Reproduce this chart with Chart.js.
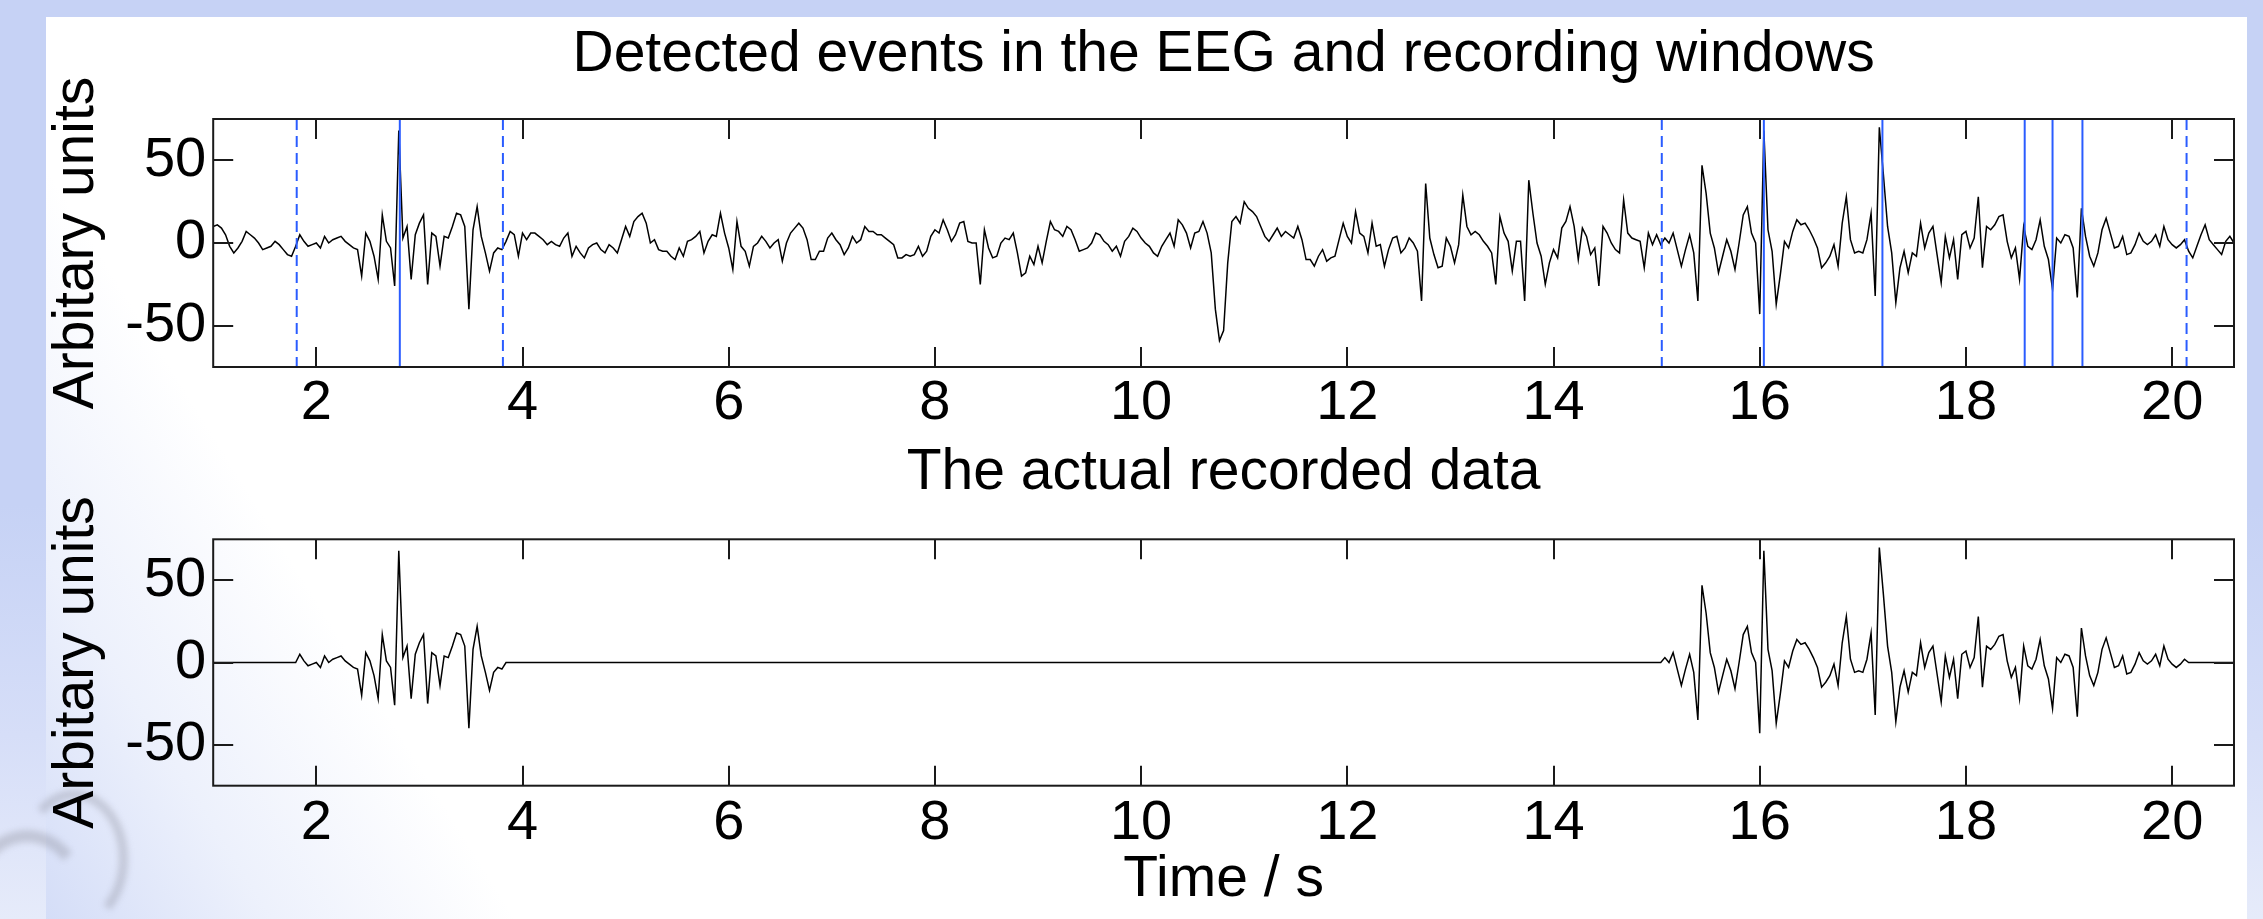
<!DOCTYPE html>
<html>
<head>
<meta charset="utf-8">
<script src="https://cdn.jsdelivr.net/npm/chart.js@4/dist/chart.umd.min.js"></script>
<style>
html,body{margin:0;padding:0;}
body{width:2263px;height:919px;background:linear-gradient(180deg,#c6d2f5 0%,#c6d2f5 55%,#d6def8 80%,#e6ebfa 100%);position:relative;overflow:hidden;}
#panel{position:absolute;left:46px;top:17px;width:2201px;height:902px;
  background:linear-gradient(58deg, rgba(198,210,245,0.75) 0%, rgba(214,223,248,0.45) 8%, rgba(255,255,255,0) 17%), #ffffff;}
.arc{position:absolute;border-radius:50%;border-style:solid;border-color:rgba(120,120,130,0.28);filter:blur(3px);}
#arc1{left:-40px;top:830px;width:110px;height:150px;border-width:12px;border-right-color:transparent;border-bottom-color:transparent;}
#arc2{left:20px;top:790px;width:90px;height:120px;border-width:9px;border-left-color:transparent;border-bottom-color:transparent;}
canvas{position:absolute;left:0;}
#c1{top:0;}
#c2{top:420px;}
</style>
</head>
<body>
<div id="panel"></div>
<div class="arc" id="arc1"></div>
<div class="arc" id="arc2"></div>
<canvas id="c1" width="2263" height="460"></canvas>
<canvas id="c2" width="2263" height="499"></canvas>
<script>
// ---------------- data ----------------
const sampleStart = 1.0;     // s
const samplePeriod = 0.04;   // s
const eeg01 = [10,11,9,5,-2,-6,-3,1,7,5,3,0,-4,-3,-2,1,-1,-4,-7,-8,-2,5,1,-2,-1];
const eeg02 = [0,-3,4,0,2,3,4,1,-1,-3,-4,-20,6,1,-8,-22,17,1,-3,-26,68,3,10,-22,5];
const eeg03 = [12,17,-25,6,4,-14,4,3,10,18,17,10,-40,8,22,4,-6,-17,-6,-3,-4,1,7,5,-8];
const eeg04 = [6,2,6,6,4,2,-1,1,-1,-2,3,6,-8,-2,-6,-9,-3,-1,0,-4,-6,-1,-3,-6,2];
const eeg05 = [10,4,13,16,18,12,0,2,-4,-5,-5,-8,-10,-3,-8,1,2,4,7,-6,1,5,4,18,6];
const eeg06 = [-3,-16,13,-2,-5,-14,-2,0,4,1,-3,0,2,-11,0,6,9,12,9,2,-10,-10,-5,-5,3];
const eeg07 = [6,2,-1,-7,-3,4,0,2,10,7,7,5,5,3,1,-1,-9,-9,-7,-8,-7,-2,-8,-5,4];
const eeg08 = [8,6,14,8,1,5,12,13,1,0,0,-25,8,-3,-9,-8,0,3,2,6,-6,-20,-18,-8,-13];
const eeg09 = [-2,-12,1,13,8,7,4,10,8,2,-5,-4,-3,0,6,5,1,-1,-5,-2,-8,1,4,9,7];
const eeg10 = [3,0,-2,-6,-8,-2,2,6,-2,14,11,6,-3,6,7,13,6,-6,-40,-59,-53,-12,13,16,12];
const eeg11 = [25,21,19,16,10,4,1,5,9,4,7,5,3,10,2,-10,-10,-14,-8,-4,-11,-9,-8,2,12];
const eeg12 = [4,0,19,6,4,-6,12,-2,-1,-14,-4,3,4,-6,-3,3,0,-5,-35,36,3,-7,-15,-14,3];
const eeg13 = [-2,-12,-1,29,10,5,7,5,1,-2,-6,-25,16,6,1,-17,1,1,-35,38,18,0,-8,-25,-12];
const eeg14 = [-4,-9,9,13,22,10,-10,9,4,-7,-3,-26,10,6,0,-4,-6,26,6,3,2,1,-15,6,-1];
const eeg15 = [5,-1,3,0,6,-4,-14,-4,5,-6,-35,47,30,6,-3,-18,-8,2,-5,-16,0,17,22,6,0];
const eeg16 = [-43,68,8,-5,-37,-19,1,-3,7,14,11,12,8,3,-3,-15,-12,-8,-1,-14,12,28,2,-6,-5];
const eeg17 = [-6,2,18,-32,70,41,10,-6,-36,-15,-5,-18,-6,-8,12,-3,6,10,-7,-24,4,-9,2,-22,5];
const eeg18 = [7,-3,3,28,-15,10,8,11,16,17,1,-9,-3,-22,10,-2,-4,2,14,-2,-10,-28,3,0,5];
const eeg19 = [4,-3,-33,21,4,-8,-14,-6,8,15,6,-3,-2,4,-7,-6,-1,6,1,-1,1,5,-2,10,2];
const eeg20 = [-1,-3,-1,2,-5,-9,-2,5,11,2,-1,-4,-7,1,4,0];

const eventTimes   = [2.81, 16.04, 17.19, 18.57, 18.84, 19.13];
const windowStarts = [1.81, 15.05];
const windowEnds   = [3.81, 20.14];

const xTickValues = [2, 4, 6, 8, 10, 12, 14, 16, 18, 20];
const yTickValues = [-50, 0, 50];
const xRange = [1, 20.6];
const yRange = [-75, 75];

const titleTop = 'Detected events in the EEG and recording windows';
const titleBottom = 'The actual recorded data';
const yLabel = 'Arbitary units';
const xLabel = 'Time / s';

// ---------------- build ----------------
const eeg = [].concat(eeg01,eeg02,eeg03,eeg04,eeg05,eeg06,eeg07,eeg08,eeg09,eeg10,
                      eeg11,eeg12,eeg13,eeg14,eeg15,eeg16,eeg17,eeg18,eeg19,eeg20);
const times = eeg.map((_, i) => +(sampleStart + i * samplePeriod).toFixed(2));
const inWindow = t => windowStarts.some((s, k) => t >= s && t <= windowEnds[k]);
const detectedPts = eeg.map((v, i) => ({x: times[i], y: v}));
const recordedPts = eeg.map((v, i) => ({x: times[i], y: inWindow(times[i]) ? v : 0}));

const FONT = "'Liberation Sans', Arial, Helvetica, sans-serif";
Chart.defaults.font.family = FONT;
Chart.defaults.color = '#000';
const BLUE = '#2a5cff';

function vline(t, dashed) {
  return {
    data: [{x: t, y: yRange[1]}, {x: t, y: yRange[0]}],
    borderColor: BLUE, borderWidth: 2, borderDash: dashed ? [11, 6] : [],
    pointRadius: 0, tension: 0, order: 1
  };
}

const boxTicks = {
  id: 'boxTicks',
  afterDatasetsDraw(chart) {
    const {ctx, chartArea: a, scales: {x, y}} = chart;
    const L = 20;
    ctx.save();
    ctx.strokeStyle = '#1a1a1a';
    ctx.lineWidth = 2;
    ctx.beginPath();
    x.ticks.forEach(t => {
      const px = Math.round(x.getPixelForValue(t.value));
      ctx.moveTo(px, a.bottom); ctx.lineTo(px, a.bottom - L);
      ctx.moveTo(px, a.top); ctx.lineTo(px, a.top + L);
    });
    y.ticks.forEach(t => {
      const py = Math.round(y.getPixelForValue(t.value));
      ctx.moveTo(a.left, py); ctx.lineTo(a.left + L, py);
      ctx.moveTo(a.right, py); ctx.lineTo(a.right - L, py);
    });
    ctx.stroke();
    ctx.strokeRect(a.left, a.top, a.right - a.left, a.bottom - a.top);
    ctx.restore();
  }
};

function makeScales(withXTitle, xHeight, xPad) {
  return {
    x: {
      type: 'linear', min: xRange[0], max: xRange[1],
      grid: {display: false, drawTicks: false}, border: {display: false},
      afterBuildTicks: s => { s.ticks = xTickValues.map(v => ({value: v})); },
      afterFit: s => { s.height = xHeight; },
      ticks: {font: {size: 56}, padding: xPad, maxRotation: 0, autoSkip: false, color: '#000'},
      title: withXTitle
        ? {display: true, text: xLabel, font: {size: 57}, padding: {top: 0, bottom: 4.5}, color: '#000'}
        : {display: false}
    },
    y: {
      type: 'linear', min: yRange[0], max: yRange[1],
      grid: {display: false, drawTicks: false}, border: {display: false},
      afterBuildTicks: s => { s.ticks = yTickValues.map(v => ({value: v})); },
      afterFit: s => { s.width = 193.2; },
      ticks: {font: {size: 56}, padding: 7, color: '#000'},
      title: {display: true, text: yLabel, font: {size: 57}, padding: {top: 23, bottom: 0}, color: '#000'}
    }
  };
}

function makeChart(id, datasets, title, titlePad, withXTitle, xHeight, xPad) {
  return new Chart(document.getElementById(id), {
    type: 'line',
    data: {datasets},
    options: {
      responsive: false, animation: false, devicePixelRatio: 1,
      layout: {padding: {left: 20, right: 29, top: 0, bottom: 0}},
      plugins: {
        legend: {display: false}, tooltip: {enabled: false},
        title: {display: true, text: title, fullSize: false,
                font: {size: 57, weight: 'normal'}, color: '#000', padding: titlePad}
      },
      scales: makeScales(withXTitle, xHeight, xPad)
    },
    plugins: [boxTicks]
  });
}

const topSets = [
  {data: detectedPts, borderColor: '#000', borderWidth: 1.5, pointRadius: 0, tension: 0, order: 2}
];
windowStarts.forEach(t => topSets.push(vline(t, true)));
windowEnds.forEach(t => topSets.push(vline(t, true)));
eventTimes.forEach(t => topSets.push(vline(t, false)));

makeChart('c1', topSets, titleTop, {top: 21, bottom: 29.6}, false, 93, 3.3);
makeChart('c2', [
  {data: recordedPts, borderColor: '#000', borderWidth: 1.5, pointRadius: 0, tension: 0, order: 2}
], titleBottom, {top: 19, bottom: 31.9}, true, 133.3, 4.6);
</script>
</body>
</html>
